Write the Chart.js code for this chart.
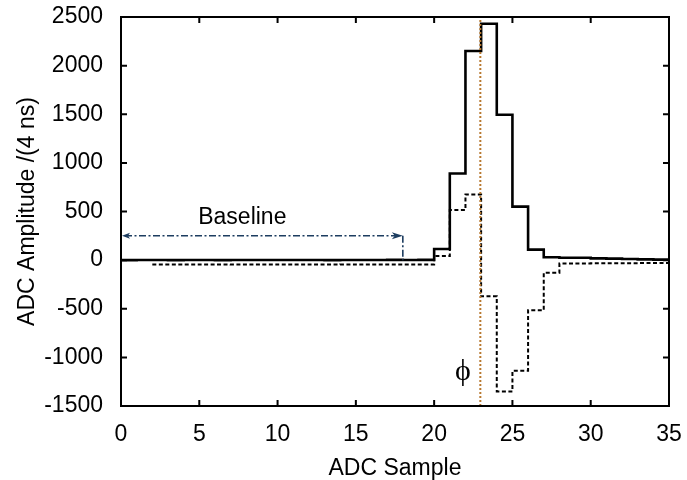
<!DOCTYPE html>
<html lang="en">
<head>
    <meta charset="UTF-8">
    <title>ADC Samples</title>
    <style>
        body { margin: 0; background: #fff; }
        canvas { display: block; }
    </style>
</head>
<body>
    <canvas id="adcChart" width="687" height="480"></canvas>
    <script src="https://cdn.jsdelivr.net/npm/chart.js"></script>
    <script>
        // sample index (bin left edges, last one closes the histogram)
        const samples = [0, 1, 2, 3, 4, 5, 6, 7, 8, 9, 10, 11, 12, 13, 14, 15, 16, 17, 18, 19,
                         20, 21, 22, 23, 24, 25, 26, 27, 28, 29, 30, 31, 32, 33, 34, 35];
        // solid: raw pulse
        const pulse = [0, 1, 1, 0, 2, 1, 0, 1, 2, 1, 1, 2, 1, 0, 2, 1, 2, 3, 2, 3,
                       115, 890, 2150, 2430, 1495, 550, 108, 30, 25, 24, 18, 15, 12, 8, 5, 5];
        // dashed: filtered pulse
        const filtered = [null, null, -45, -45, -44, -45, -44, -45, -45, -44, -45, -44, -45, -45, -44, -45, -44, -44, -44, -44,
                          42, 515, 675, -372, -1350, -1138, -516, -130, -35, -34, -33, -32, -31, -30, -30, -30];
        const xTicks = [0, 5, 10, 15, 20, 25, 30, 35];
        const yTicks = [-1500, -1000, -500, 0, 500, 1000, 1500, 2000, 2500];
        const phiSample = 22.95;
        const baselineFrom = 0, baselineTo = 18, baselineLevel = 250;
        const baselineLabel = { text: "Baseline", x: 7.75, y: 370 };
        const phiLabel = { text: "\u03D5", x: 21.84, y: -1150 };

        const FONT = "'Liberation Sans', Arial, sans-serif";

        const pts = (vals) => samples.map((s, i) => ({ x: s, y: vals[i] }));

        // frame with inward ticks + baseline arrow + labels
        const decor = {
            id: "decor",
            afterDraw(chart) {
                const c = chart.ctx, a = chart.chartArea;
                const xs = chart.scales.x, ys = chart.scales.y;
                c.save();

                // baseline arrow (dash-dot)
                const navy = "#1d3d60";
                const ay = ys.getPixelForValue(baselineLevel);
                const ax0 = xs.getPixelForValue(baselineFrom);
                const ax1 = xs.getPixelForValue(baselineTo);
                c.strokeStyle = navy;
                c.lineWidth = 1.6;
                c.setLineDash([7, 2.5, 2, 2.5]);
                c.beginPath();
                c.moveTo(ax0 + 4, ay);
                c.lineTo(ax1 - 6, ay);
                c.moveTo(ax1, ay);
                c.lineTo(ax1, ys.getPixelForValue(0));
                c.stroke();
                c.setLineDash([]);
                c.fillStyle = navy;
                c.beginPath();
                c.moveTo(ax0 + 1, ay);
                c.lineTo(ax0 + 9, ay - 3);
                c.lineTo(ax0 + 7, ay);
                c.lineTo(ax0 + 9, ay + 3);
                c.closePath();
                c.fill();
                c.beginPath();
                c.moveTo(ax1, ay);
                c.lineTo(ax1 - 11, ay - 3.5);
                c.lineTo(ax1 - 8, ay);
                c.lineTo(ax1 - 11, ay + 3.5);
                c.closePath();
                c.fill();

                // texts
                c.fillStyle = "#000";
                c.textAlign = "center";
                c.textBaseline = "alphabetic";
                c.font = "23px " + FONT;
                c.fillText(baselineLabel.text, xs.getPixelForValue(baselineLabel.x), ys.getPixelForValue(baselineLabel.y));
                c.textBaseline = "middle";
                c.font = "30px 'Liberation Serif', 'DejaVu Serif', serif";
                c.fillText(phiLabel.text, xs.getPixelForValue(phiLabel.x), ys.getPixelForValue(phiLabel.y));

                // frame
                c.strokeStyle = "#000";
                c.lineWidth = 2;
                c.strokeRect(a.left, a.top, a.right - a.left, a.bottom - a.top);
                const tl = 6;
                c.beginPath();
                xTicks.forEach(v => {
                    const px = xs.getPixelForValue(v);
                    c.moveTo(px, a.bottom); c.lineTo(px, a.bottom - tl);
                    c.moveTo(px, a.top); c.lineTo(px, a.top + tl);
                });
                yTicks.forEach(v => {
                    const py = ys.getPixelForValue(v);
                    c.moveTo(a.left, py); c.lineTo(a.left + tl, py);
                    c.moveTo(a.right, py); c.lineTo(a.right - tl, py);
                });
                c.stroke();
                c.restore();
            }
        };

        const ctx = document.getElementById("adcChart").getContext("2d");
        new Chart(ctx, {
            type: "line",
            data: {
                datasets: [
                    {
                        label: "phi",
                        data: [{ x: phiSample, y: -1500 }, { x: phiSample, y: 2500 }],
                        borderColor: "#b8782f",
                        borderWidth: 2,
                        borderDash: [2, 2],
                        pointRadius: 0
                    },
                    {
                        label: "filtered",
                        data: pts(filtered),
                        stepped: true,
                        borderColor: "#000",
                        borderWidth: 2,
                        borderDash: [4, 2.5],
                        pointRadius: 0,
                        spanGaps: false
                    },
                    {
                        label: "pulse",
                        data: pts(pulse),
                        stepped: true,
                        borderColor: "#000",
                        borderWidth: 2.6,
                        pointRadius: 0
                    }
                ]
            },
            plugins: [decor],
            options: {
                responsive: false,
                animation: false,
                devicePixelRatio: 1,
                layout: { padding: { top: 17, right: 18, left: 0, bottom: 0 } },
                plugins: {
                    legend: { display: false },
                    tooltip: { enabled: false }
                },
                scales: {
                    x: {
                        type: "linear",
                        min: 0, max: 35,
                        afterFit: (s) => { s.height = 74; s.paddingLeft = 0; s.paddingRight = 0; },
                        afterBuildTicks: (s) => { s.ticks = xTicks.map(v => ({ value: v })); },
                        grid: { display: false, drawTicks: false },
                        border: { display: false },
                        ticks: { autoSkip: false, maxRotation: 0, padding: 15, color: "#000",
                                 font: { family: FONT, size: 23 }, callback: (v) => String(v) },
                        title: { display: true, text: "ADC Sample", color: "#000", padding: 0, font: { family: FONT, size: 23, lineHeight: 1 } }
                    },
                    y: {
                        min: -1500, max: 2500,
                        afterFit: (s) => { s.width = 121; s.paddingTop = 0; s.paddingBottom = 0; },
                        afterBuildTicks: (s) => { s.ticks = yTicks.map(v => ({ value: v })); },
                        grid: { display: false, drawTicks: false },
                        border: { display: false },
                        ticks: { autoSkip: false, padding: 18, color: "#000",
                                 font: { family: FONT, size: 23 }, callback: (v) => String(v) },
                        title: { display: true, text: "ADC Amplitude /(4 ns)", color: "#000", padding: { top: 16, bottom: 0 }, font: { family: FONT, size: 23, lineHeight: 1 } }
                    }
                }
            }
        });
    </script>
</body>
</html>
